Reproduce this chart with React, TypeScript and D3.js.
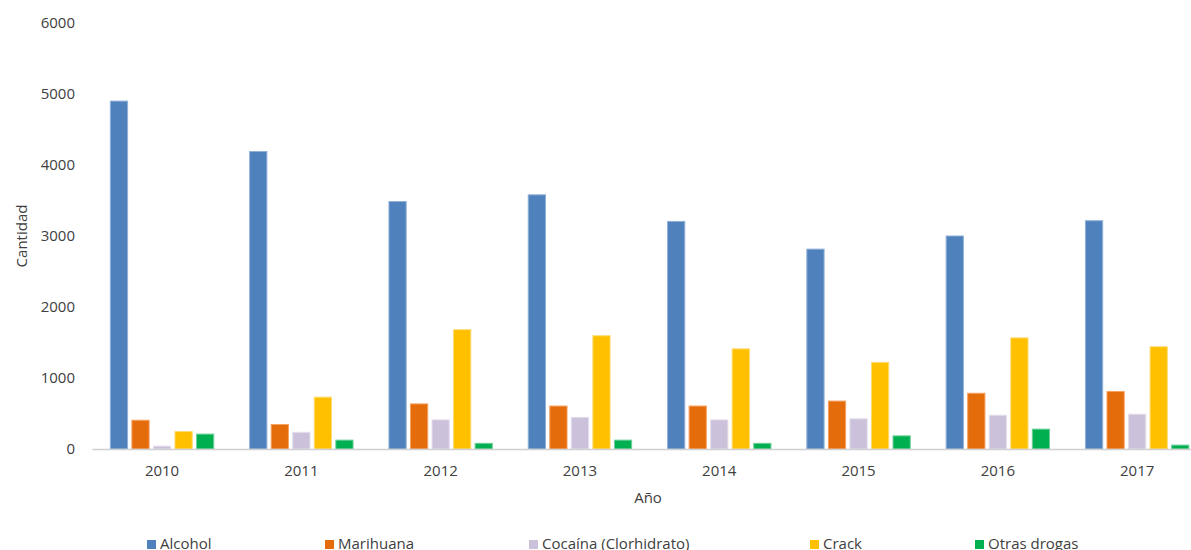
import React from "react";
import * as d3 from "d3";

const years = ["2010", "2011", "2012", "2013", "2014", "2015", "2016", "2017"];
const seriesNames = ["Alcohol", "Marihuana", "Cocaína (Clorhidrato)", "Crack", "Otras drogas"];
const alcohol = [4900, 4190, 3485, 3580, 3205, 2815, 3000, 3215];
const marihuana = [405, 345, 635, 605, 605, 675, 785, 810];
const cocaina = [40, 235, 410, 445, 410, 425, 475, 490];
const crack = [245, 730, 1680, 1595, 1410, 1220, 1565, 1440];
const otras = [210, 125, 80, 125, 80, 185, 280, 55];
const yTicks = [0, 1000, 2000, 3000, 4000, 5000, 6000];

const colors = ["#4F81BD", "#E46C0A", "#CCC1DA", "#FFC000", "#00B050"];
const strokes = ["#8FB0D8", "#F7A060", "#E4DDEC", "#FFDA70", "#70D09A"];
const legendX = [147, 325, 529, 810, 975];

const W = 1191;
const H = 550;
const FONT = "'Open Sans', 'Liberation Sans', sans-serif";
const TXT = "#404040";

export default function App() {
  const allSeries = [alcohol, marihuana, cocaina, crack, otras];
  const x = d3.scaleBand<string>().domain(years).range([92.4, 92.4 + 8 * 139.3]).padding(0);
  const inner = d3
    .scaleBand<string>()
    .domain(seriesNames)
    .range([-51.7, 51.7])
    .paddingInner(0.2)
    .paddingOuter(0);
  const y = d3.scaleLinear().domain([0, 6000]).range([449, 23]);

  return (
    <svg width={W} height={H} style={{ position: "absolute", left: 0, top: 0 }}>
      <rect x={0} y={0} width={W} height={H} fill="#fff" />
      {/* y ticks */}
      {yTicks.map((t) => (
        <text
          key={t}
          x={75}
          y={y(t)}
          dy="0.35em"
          textAnchor="end"
          fontFamily={FONT}
          fontSize={15}
          fill={TXT}
        >
          {t}
        </text>
      ))}
      <text
        transform={`translate(27,${236}) rotate(-90)`}
        textAnchor="middle"
        fontFamily={FONT}
        fontSize={15}
        fill={TXT}
      >
        Cantidad
      </text>
      {/* bars */}
      {years.map((yr, i) => {
        const cx = (x(yr) as number) + x.bandwidth() / 2;
        return (
          <g key={yr}>
            {allSeries.map((s, k) => {
              const bx = cx + (inner(seriesNames[k]) as number);
              return (
                <rect
                  key={k}
                  x={bx}
                  y={y(s[i])}
                  width={inner.bandwidth()}
                  height={y(0) - y(s[i])}
                  fill={colors[k]}
                  stroke={strokes[k]}
                  strokeWidth={1}
                />
              );
            })}
          </g>
        );
      })}
      {/* axis line */}
      <line x1={92.4} x2={W} y1={449.5} y2={449.5} stroke="#D0D0D0" strokeWidth={1.5} />
      {years.map((yr) => (
        <text
          key={yr}
          x={(x(yr) as number) + x.bandwidth() / 2}
          y={476}
          textAnchor="middle"
          fontFamily={FONT}
          fontSize={15}
          fill={TXT}
        >
          {yr}
        </text>
      ))}
      <text x={648} y={503} textAnchor="middle" fontFamily={FONT} fontSize={15} fill={TXT}>
        Año
      </text>
      {/* legend */}
      {seriesNames.map((n, k) => (
        <g key={n}>
          <rect x={legendX[k]} y={540} width={9} height={9} fill={colors[k]} />
          <text x={legendX[k] + 13} y={549} fontFamily={FONT} fontSize={15} fill={TXT}>
            {n}
          </text>
        </g>
      ))}
    </svg>
  );
}
